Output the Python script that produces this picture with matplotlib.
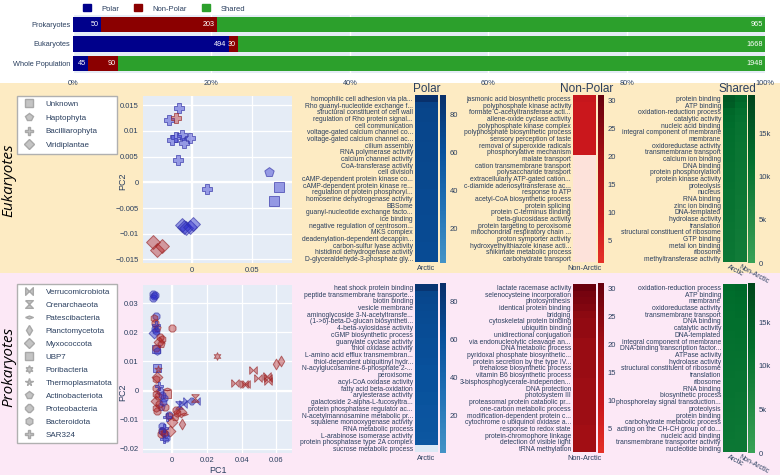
import numpy as np
import matplotlib.pyplot as plt
import matplotlib.cm as cm
from matplotlib.colors import LinearSegmentedColormap, Normalize
from matplotlib.lines import Line2D
from matplotlib.patches import Patch, Rectangle
from matplotlib.ticker import FuncFormatter

plt.rcParams['font.family'] = ['Liberation Sans', 'DejaVu Sans']

# ---- data ----
groups = ['Prokaryotes', 'Eukaryotes', 'Whole Population']
polar_counts = [50, 494, 45]
nonpolar_counts = [203, 30, 90]
shared_counts = [965, 1668, 1948]

euk_taxa = ['Unknown', 'Haptophyta', 'Bacilliarophyta', 'Viridiplantae']
euk_pc1 = [-0.0110, -0.0193, -0.0133, -0.0166, -0.0130, -0.0083, -0.0069, -0.0019, -0.0116, 0.0124,
           0.0644,
           0.0727, 0.0682,
           -0.0083, -0.0069, -0.0047, -0.0019, 0.0006, -0.0323, -0.0290, -0.0249]
euk_pc2 = [0.0145, 0.0121, 0.0125, 0.0082, 0.0088, 0.0093, 0.0077, 0.0086, 0.0043, -0.0013,
           0.0021,
           -0.0010, -0.0037,
           -0.0084, -0.0086, -0.0088, -0.0087, -0.0082, -0.0117, -0.0132, -0.0123]
euk_taxon = ['Bacilliarophyta'] * 10 + ['Haptophyta'] + ['Unknown'] * 2 + ['Viridiplantae'] * 8
euk_env = ['P', 'P', 'N', 'P', 'P', 'P', 'P', 'P', 'P', 'P',
           'P',
           'P', 'P',
           'P', 'P', 'P', 'P', 'P', 'N', 'N', 'N']

prok_taxa = ['Verrucomicrobiota', 'Crenarchaeota', 'Patescibacteria', 'Planctomycetota',
             'Myxococcota', 'UBP7', 'Poribacteria', 'Thermoplasmatota', 'Actinobacteriota',
             'Proteobacteria', 'Bacteroidota', 'SAR324']
prok_pc1 = [-0.0110, -0.0104, -0.0098, -0.0108,
            -0.0105, -0.0094, -0.0100, -0.0092, -0.0098, -0.0090, -0.0101, -0.0088,
            -0.0095, -0.0090, -0.0086,
            -0.0070, -0.0060, -0.0075, -0.0066, 0.0000,
            -0.0085, -0.0080, -0.0095, -0.0085,
            -0.0090, -0.0075, -0.0070, -0.0095, -0.0080, -0.0060, -0.0090, -0.0075,
            -0.0092, -0.0085, -0.0065, -0.0045, -0.0030, -0.0030, -0.0040, -0.0050,
            0.0040, 0.0065, 0.0088, 0.0140, 0.0130,
            0.0025, 0.0030, 0.0050, 0.0068, 0.0015, -0.0020, 0.0000, 0.0058,
            -0.0020, -0.0030,
            -0.0055, -0.0045, -0.0060, -0.0040, -0.0035, -0.0048,
            -0.0055, -0.0045, -0.0010, -0.0065,
            0.0260, 0.0365, 0.0415, 0.0425, 0.0465, 0.0495, 0.0545, 0.0550, 0.0553,
            0.0600, 0.0625]
prok_pc2 = [0.0330, 0.0324, 0.0329, 0.0318,
            0.0250, 0.0255, 0.0232, 0.0224, 0.0210, 0.0204, 0.0197, 0.0216,
            0.0141, 0.0145, 0.0137,
            0.0185, 0.0178, 0.0166, 0.0160, 0.0215,
            0.0078, 0.0075, 0.0040, 0.0045,
            0.0008, 0.0015, 0.0000, -0.0010, -0.0020, -0.0015, -0.0035, -0.0045,
            -0.0060, -0.0070, -0.0055, -0.0025, -0.0010, 0.0005, -0.0055, -0.0040,
            -0.0048, -0.0045, -0.0037, -0.0034, -0.0027,
            -0.0065, -0.0078, -0.0072, -0.0080, -0.0090, -0.0088, -0.0108, -0.0113,
            -0.0082, -0.0092,
            -0.0120, -0.0128, -0.0140, -0.0150, -0.0162, -0.0165,
            -0.0138, -0.0145, -0.0140, -0.0148,
            0.0120, 0.0026, 0.0024, 0.0023, 0.0072, 0.0042, 0.0049, 0.0044, 0.0034,
            0.0092, 0.0102]
prok_taxon = ['Proteobacteria'] * 4 + \
    ['Bacteroidota', 'Proteobacteria', 'Proteobacteria', 'SAR324', 'Proteobacteria',
     'Bacteroidota', 'Myxococcota', 'Actinobacteriota'] + \
    ['UBP7', 'Proteobacteria', 'Bacteroidota'] + \
    ['Proteobacteria', 'Bacteroidota', 'Myxococcota', 'Actinobacteriota', 'Proteobacteria'] + \
    ['UBP7', 'Thermoplasmatota', 'Bacteroidota', 'Myxococcota'] + \
    ['Proteobacteria', 'SAR324', 'Proteobacteria', 'Bacteroidota', 'Proteobacteria',
     'Bacteroidota', 'Myxococcota', 'Proteobacteria', 'Bacteroidota', 'Proteobacteria',
     'Actinobacteriota', 'Proteobacteria', 'UBP7', 'Patescibacteria', 'Proteobacteria',
     'Bacteroidota'] + \
    ['Crenarchaeota', 'Verrucomicrobiota', 'Verrucomicrobiota', 'Verrucomicrobiota',
     'Crenarchaeota'] + \
    ['Proteobacteria', 'Bacteroidota', 'Myxococcota', 'Patescibacteria', 'Actinobacteriota',
     'Bacteroidota', 'Myxococcota', 'Planctomycetota'] + \
    ['Proteobacteria', 'SAR324'] + \
    ['Proteobacteria', 'SAR324', 'Bacteroidota', 'Proteobacteria', 'Proteobacteria', 'SAR324'] + \
    ['Proteobacteria', 'Bacteroidota', 'Myxococcota', 'Proteobacteria'] + \
    ['Poribacteria'] + ['Verrucomicrobiota'] * 8 + ['Planctomycetota'] * 2
prok_env = ['P'] * 4 + ['N', 'P', 'N', 'P', 'P', 'P', 'P', 'N'] + ['P', 'N', 'P'] + \
    ['N'] * 5 + ['P', 'N', 'N', 'N'] + \
    ['N', 'P', 'P', 'N', 'N', 'P', 'N', 'N', 'N', 'N', 'P', 'P', 'N', 'N', 'N', 'P'] + \
    ['P', 'P', 'P', 'P', 'N'] + ['N'] * 8 + ['P', 'P'] + ['P'] * 6 + ['N'] * 4 + ['N'] * 11

euk_polar_terms = ['homophilic cell adhesion via pla...', 'Rho guanyl-nucleotide exchange f...',
                   'structural constituent of cell wall', 'regulation of Rho protein signal...',
                   'cell communication', 'voltage-gated calcium channel co...',
                   'voltage-gated calcium channel ac...', 'cilium assembly', 'RNA polymerase activity',
                   'calcium channel activity', 'CoA-transferase activity', 'cell division',
                   'cAMP-dependent protein kinase co...', 'cAMP-dependent protein kinase re...',
                   'regulation of protein phosphoryl...', 'homoserine dehydrogenase activity', 'BBSome',
                   'guanyl-nucleotide exchange facto...', 'ice binding',
                   'negative regulation of centrosom...', 'MKS complex',
                   'deadenylation-dependent decappin...', 'carbon-sulfur lyase activity',
                   'histidinol dehydrogenase activity', 'D-glyceraldehyde-3-phosphate gly...']
euk_polar_vals = [90, 72, 71, 71, 70, 70, 70, 69, 69, 69, 68, 68, 68, 68, 67, 67, 67, 67, 66, 66,
                  66, 66, 65, 65, 65]

euk_np_terms = ['jasmonic acid biosynthetic process', 'polyphosphate kinase activity',
                'formate C-acetyltransferase acti...', 'allene-oxide cyclase activity',
                'polyphosphate kinase complex', 'polyphosphate biosynthetic process',
                'sensory perception of taste', 'removal of superoxide radicals',
                'phosphorylative mechanism', 'malate transport', 'cation transmembrane transport',
                'polysaccharide transport', 'extracellularly ATP-gated cation...',
                'c-diamide adenosyltransferase ac...', 'response to ATP',
                'acetyl-CoA biosynthetic process', 'protein splicing', 'protein C-terminus binding',
                'beta-glucosidase activity', 'protein targeting to peroxisome',
                'mitochondrial respiratory chain ...', 'proton symporter activity',
                'hydroxyethylthiazole kinase acti...', 'shikimate metabolic process',
                'carbohydrate transport']
euk_np_vals = [10, 9, 9, 9, 9, 9, 9, 9, 9, 0, 0, 0, 0, 0, 0, 0, 0, 0, 0, 0, 0, 0, 0, 0, 0]

euk_sh_terms = ['protein binding', 'ATP binding', 'oxidation-reduction process', 'catalytic activity',
                'nucleic acid binding', 'integral component of membrane', 'membrane',
                'oxidoreductase activity', 'transmembrane transport', 'calcium ion binding',
                'DNA binding', 'protein phosphorylation', 'protein kinase activity', 'proteolysis',
                'nucleus', 'RNA binding', 'zinc ion binding', 'DNA-templated', 'hydrolase activity',
                'translation', 'structural constituent of ribosome', 'GTP binding',
                'metal ion binding', 'ribosome', 'methyltransferase activity']
euk_sh_arctic = [15500, 14800, 13000, 12500, 12000, 11800, 11600, 11500, 11400, 11300, 11200, 11100,
                 11000, 10900, 10800, 10700, 10600, 10500, 10400, 10300, 10200, 10100, 10000, 9900,
                 9800]
euk_sh_nonarctic = [13500, 12500, 11500, 11000, 10800, 10600, 10400, 10300, 10200, 10100, 10000,
                    9900, 9800, 9700, 9600, 9500, 9400, 9300, 9200, 9100, 9000, 8900, 8800, 8700,
                    8600]

prok_polar_terms = ['heat shock protein binding', 'peptide transmembrane transporte...',
                    'biotin binding', 'vesicle membrane', 'aminoglycoside 3-N-acetyltransfe...',
                    '(1->6)-beta-D-glucan biosyntheti...', '4-beta-xylosidase activity',
                    'cGMP biosynthetic process', 'guanylate cyclase activity', 'thiol oxidase activity',
                    'L-amino acid efflux transmembran...', 'thiol-dependent ubiquitinyl hydr...',
                    'N-acylglucosamine-6-phosphate 2-...', 'peroxisome', 'acyl-CoA oxidase activity',
                    'fatty acid beta-oxidation', 'arylesterase activity',
                    'galactoside 2-alpha-L-fucosyltra...', 'protein phosphatase regulator ac...',
                    'N-acetylmannosamine metabolic pr...', 'squalene monooxygenase activity',
                    'RNA metabolic process', 'L-arabinose isomerase activity',
                    'protein phosphatase type 2A complex', 'sucrose metabolic process']
prok_polar_vals = [85, 70, 68, 67, 66, 65, 64, 64, 63, 62, 62, 61, 60, 60, 59, 59, 58, 58, 57, 57,
                   56, 56, 55, 54, 0]

prok_np_terms = ['lactate racemase activity', 'selenocysteine incorporation', 'photosynthesis',
                 'identical protein binding', 'bridging', 'cytoskeletal protein binding',
                 'ubiquitin binding', 'unidirectional conjugation', 'via endonucleolytic cleavage an...',
                 'DNA metabolic process', 'pyridoxal phosphate biosynthetic...',
                 'protein secretion by the type IV...', 'trehalose biosynthetic process',
                 'vitamin B6 biosynthetic process', '3-bisphosphoglycerate-independen...',
                 'DNA protection', 'photosystem III', 'proteasomal protein catabolic pr...',
                 'one-carbon metabolic process', 'modification-dependent protein c...',
                 'cytochrome o ubiquinol oxidase a...', 'response to redox state',
                 'protein-chromophore linkage', 'detection of visible light', 'tRNA methylation']
prok_np_vals = [30, 28, 27, 26, 24, 23, 23, 23, 22, 22, 22, 22, 22, 22, 21, 21, 21, 21, 21, 21,
                21, 20, 20, 20, 20]

prok_sh_terms = ['oxidation-reduction process', 'ATP binding', 'membrane', 'oxidoreductase activity',
                 'transmembrane transport', 'DNA binding', 'catalytic activity', 'DNA-templated',
                 'integral component of membrane', 'DNA-binding transcription factor...',
                 'ATPase activity', 'hydrolase activity', 'structural constituent of ribosome',
                 'translation', 'ribosome', 'RNA binding', 'biosynthetic process',
                 'phosphorelay signal transduction...', 'proteolysis', 'protein binding',
                 'carbohydrate metabolic process', 'acting on the CH-CH group of do...',
                 'nucleic acid binding', 'transmembrane transporter activity', 'nucleotide binding']
prok_sh_arctic = [12500, 12200, 12000, 11900, 11800, 11700, 11600, 11500, 11400, 11300, 11200,
                  11100, 11000, 10900, 10800, 10700, 10600, 10500, 10400, 10300, 10200, 10100,
                  10000, 9900, 9800]
prok_sh_nonarctic = [13000, 12600, 12300, 12100, 12000, 11800, 11700, 11600, 11500, 11400, 11200,
                     11000, 10900, 10800, 10700, 10600, 10400, 10300, 10200, 10100, 10000, 9900,
                     9800, 9700, 9600]

# ---- style ----
W, H = 780, 475
TXT = '#2a3f5f'
PLOT_BG = '#e5ecf6'
EUK_BG = '#fdebc3'
PROK_BG = '#fce8f6'
LBL = 4.9


def box(x0, y0, x1, y1):
    return [x0 / W, 1 - y1 / H, (x1 - x0) / W, (y1 - y0) / H]


def trunc(name, lo, hi, under):
    base = plt.get_cmap(name)
    cmap = LinearSegmentedColormap.from_list(name + '_t', base(np.linspace(lo, hi, 128)))
    cmap.set_under(under)
    return cmap


def plotly_fmt(v, pos):
    s = '{:g}'.format(round(v, 6))
    return s.replace('-', '\u2212')


def k_fmt(v, pos):
    return '0' if v == 0 else '{:g}k'.format(v / 1000)


fig = plt.figure(figsize=(W / 100, H / 100), dpi=100)
fig.patches.append(Rectangle((0, 1 - 273 / H), 1, (273 - 83) / H, transform=fig.transFigure,
                             facecolor=EUK_BG, edgecolor='none', zorder=-10))
fig.patches.append(Rectangle((0, 0), 1, 1 - 273 / H, transform=fig.transFigure,
                             facecolor=PROK_BG, edgecolor='none', zorder=-10))

# ---- stacked percentage bars ----
ax = fig.add_axes(box(73, 15, 765, 73))
ax.set_facecolor(PLOT_BG)
totals = np.array(polar_counts) + np.array(nonpolar_counts) + np.array(shared_counts)
left = np.zeros(len(groups))
ypos = np.arange(len(groups))
for counts, color, name in [(polar_counts, '#00008b', 'Polar'),
                            (nonpolar_counts, '#8b0000', 'Non-Polar'),
                            (shared_counts, '#2ca02c', 'Shared')]:
    pct = np.array(counts) / totals * 100
    ax.barh(ypos, pct, left=left, height=0.8, color=color, label=name, zorder=2)
    for i, c in enumerate(counts):
        ax.text(left[i] + pct[i] - 0.35, i, str(c), ha='right', va='center', color='white',
                fontsize=5.2, zorder=3)
    left += pct
ax.set_xlim(0, 100)
ax.set_ylim(2.5, -0.5)
ax.set_yticks(ypos, groups)
ax.set_xticks(range(0, 101, 20), ['{}%'.format(v) for v in range(0, 101, 20)])
ax.tick_params(length=0, labelsize=5.3, colors=TXT, pad=2)
ax.tick_params(axis='x', pad=5)
ax.grid(axis='x', color='white', lw=1, zorder=1)
for s in ax.spines.values():
    s.set_visible(False)
fig.legend(handles=[Patch(color='#00008b', label='Polar'), Patch(color='#8b0000', label='Non-Polar'),
                    Patch(color='#2ca02c', label='Shared')],
           loc='center left', bbox_to_anchor=(83 / W, 1 - 8.5 / H), ncol=3, frameon=False,
           fontsize=5.5, handlelength=1.0, handleheight=1.0, handletextpad=1.4, columnspacing=2.0,
           labelcolor=TXT, borderaxespad=0, borderpad=0)


# ---- PCA scatters ----
def bowtie():
    return [(-1, 1), (0, 0), (1, 1), (1, -1), (0, 0), (-1, -1), (-1, 1)]


def hourglass():
    return [(-1, 1), (1, 1), (0, 0), (1, -1), (-1, -1), (0, 0), (-1, 1)]


markers = {'Unknown': 's', 'Haptophyta': 'p', 'Bacilliarophyta': 'P', 'Viridiplantae': 'D',
           'Verrucomicrobiota': bowtie(), 'Crenarchaeota': hourglass(),
           'Patescibacteria': [(-1.6, 0), (0, 0.6), (1.6, 0), (0, -0.6), (-1.6, 0)],
           'Planctomycetota': 'd', 'Myxococcota': 'D', 'UBP7': 's', 'Poribacteria': (6, 1, 0),
           'Thermoplasmatota': '*', 'Actinobacteriota': 'p', 'Proteobacteria': '8',
           'Bacteroidota': 'h', 'SAR324': 'P'}
env_face = {'P': (0.15, 0.15, 0.8, 0.42), 'N': (0.7, 0.1, 0.1, 0.4)}
env_edge = {'P': (0.2, 0.2, 0.65, 0.65), 'N': (0.6, 0.15, 0.15, 0.65)}


def scatter_panel(rect, pc1, pc2, taxon, env, taxa, xlim, ylim, xticks, yticks, size, legend_rect,
                  spacing, show_xlabel, ylabel_y):
    ax = fig.add_axes(box(*rect))
    ax.set_facecolor(PLOT_BG)
    pc1, pc2 = np.array(pc1), np.array(pc2)
    taxon, env = np.array(taxon), np.array(env)
    for t in taxa:
        for e in ['P', 'N']:
            m = (taxon == t) & (env == e)
            if m.any():
                ax.scatter(pc1[m], pc2[m], marker=markers[t], s=size, facecolor=env_face[e],
                           edgecolor=env_edge[e], linewidths=0.7, zorder=3)
    ax.set_xlim(*xlim)
    ax.set_ylim(*ylim)
    ax.set_xticks(xticks)
    ax.set_yticks(yticks)
    ax.xaxis.set_major_formatter(FuncFormatter(plotly_fmt))
    ax.yaxis.set_major_formatter(FuncFormatter(plotly_fmt))
    ax.grid(color='white', lw=0.9, zorder=1)
    ax.axhline(0, color='white', lw=1.6, zorder=2)
    ax.axvline(0, color='white', lw=1.6, zorder=2)
    ax.tick_params(length=0, labelsize=5.5, colors=TXT, pad=3)
    for s in ax.spines.values():
        s.set_visible(False)
    ax.set_ylabel('PC2', fontsize=6.5, color=TXT)
    ax.yaxis.set_label_coords(-0.105, ylabel_y)
    if show_xlabel:
        ax.set_xlabel('PC1', fontsize=6.5, color=TXT, labelpad=1)
    handles = [Line2D([], [], marker=markers[t], linestyle='', markersize=5.5,
                      markerfacecolor='#c4c4c4', markeredgecolor='#a8a8a8', label=t) for t in taxa]
    x0, y0, x1 = legend_rect
    fig.legend(handles=handles, loc='upper left', bbox_to_anchor=(x0 / W, 1 - y0 / H, (x1 - x0) / W, 0),
               mode='expand', fontsize=5.8, labelcolor=TXT, fancybox=False, framealpha=1,
               edgecolor='#b0b0b0', labelspacing=spacing, borderaxespad=0, handletextpad=1.0,
               borderpad=0.55)


scatter_panel((143, 96, 292, 263), euk_pc1, euk_pc2, euk_taxon, euk_env, euk_taxa,
              (-0.0408, 0.0833), (-0.0157, 0.0168), [0, 0.05],
              [-0.015, -0.01, -0.005, 0, 0.005, 0.01, 0.015], 50, (17, 96, 117), 0.75, False, 0.49)
scatter_panel((143, 285, 292, 453), prok_pc1, prok_pc2, prok_taxon, prok_env, prok_taxa,
              (-0.0167, 0.069), (-0.0214, 0.0362), [0, 0.02, 0.04, 0.06],
              [-0.02, -0.01, 0, 0.01, 0.02, 0.03], 30, (17, 284, 117), 0.66, True, 0.36)

fig.text(9 / W, 1 - 180 / H, 'Eukaryotes', rotation=90, style='italic', fontsize=11,
         ha='center', va='center', family=['Open Sans', 'DejaVu Sans'])
fig.text(9 / W, 1 - 367 / H, 'Prokaryotes', rotation=90, style='italic', fontsize=11,
         ha='center', va='center', family=['Open Sans', 'DejaVu Sans'])


# ---- GO term heatmaps ----
def heatmap(rect, crect, terms, columns, cols, cmap, vmin, vmax, cticks, kfmt=False):
    ax = fig.add_axes(box(*rect))
    z = np.column_stack(columns)
    norm = Normalize(vmin, vmax)
    ax.imshow(z, cmap=cmap, norm=norm, aspect='auto', interpolation='nearest')
    ax.set_yticks(range(len(terms)), terms)
    ax.tick_params(axis='y', length=0, labelsize=LBL, labelcolor=TXT, pad=1.5)
    if len(cols) > 1:
        ax.set_xticks(range(len(cols)), cols, rotation=-28, ha='left', va='top',
                      rotation_mode='anchor', fontsize=5.0)
        ax.tick_params(axis='x', length=0, labelcolor=TXT, pad=1.5)
    else:
        ax.set_xticks(range(len(cols)), cols)
        ax.tick_params(axis='x', length=0, labelsize=5.3, labelcolor=TXT, pad=2)
    for s in ax.spines.values():
        s.set_visible(False)
    cax = fig.add_axes(box(*crect))
    cb = fig.colorbar(cm.ScalarMappable(norm=norm, cmap=cmap), cax=cax, ticks=cticks)
    cb.outline.set_visible(False)
    cax.tick_params(length=0, labelsize=5.5, labelcolor=TXT, pad=2.5)
    if kfmt:
        cax.yaxis.set_major_formatter(FuncFormatter(k_fmt))
    return ax


blues = trunc('Blues', 0.62, 1.0, '#dce9f5')
reds = trunc('Reds', 0.66, 1.0, '#fde2da')
greens = trunc('Greens', 0.66, 1.0, '#c7e9c0')

heatmap((415, 95, 438, 262), (440, 95, 446, 263), euk_polar_terms, [euk_polar_vals], ['Arctic'],
        blues, 2, 90, [20, 40, 60, 80])
heatmap((573, 95, 596, 262), (598, 95, 604, 263), euk_np_terms, [euk_np_vals], ['Non-Arctic'],
        reds, 1, 31, [5, 10, 15, 20, 25, 30])
heatmap((723, 95, 747, 262), (748, 95, 755, 263), euk_sh_terms, [euk_sh_arctic, euk_sh_nonarctic],
        ['Arctic', 'Non-Arctic'], greens, 0, 19400, [0, 5000, 10000, 15000], kfmt=True)

heatmap((415, 284, 438, 452), (440, 283, 446, 453), prok_polar_terms, [prok_polar_vals], ['Arctic'],
        blues, 0.5, 90, [20, 40, 60, 80])
heatmap((573, 284, 596, 452), (598, 283, 604, 453), prok_np_terms, [prok_np_vals], ['Non-Arctic'],
        reds, 0.7, 31, [5, 10, 15, 20, 25, 30])
heatmap((723, 284, 747, 452), (748, 283, 755, 453), prok_sh_terms, [prok_sh_arctic, prok_sh_nonarctic],
        ['Arctic', 'Non-Arctic'], greens, 0, 19500, [0, 5000, 10000, 15000], kfmt=True)

for label, x in [('Polar', 427), ('Non-Polar', 587), ('Shared', 737)]:
    fig.text(x / W, 1 - 89 / H, label, ha='center', va='center', fontsize=8.5, color=TXT)

fig.savefig('out.png', dpi=100)
